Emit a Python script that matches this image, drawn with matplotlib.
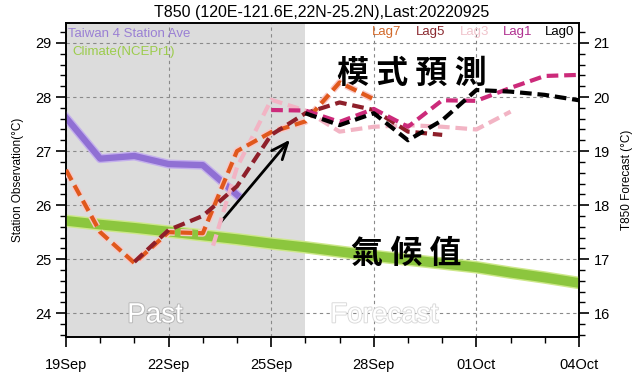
import matplotlib
matplotlib.use("Agg")
import matplotlib.pyplot as plt
import matplotlib.patheffects as pe

plt.rcParams['font.family'] = ['Liberation Sans', 'DejaVu Sans']

# Day index 0 = 19Sep ... 15 = 04Oct
days = list(range(16))
tick_days = [0, 3, 6, 9, 12, 15]
tick_labels = ["19Sep", "22Sep", "25Sep", "28Sep", "01Oct", "04Oct"]

# Station observation (left axis, °C)
obs_days = [0, 1, 2, 3, 4, 5]
obs_vals = [27.62, 26.86, 26.91, 26.76, 26.74, 26.19]

# Climate (NCEPr1), left axis units
clim_vals = [25.71, 25.64, 25.58, 25.51, 25.44, 25.37, 25.29, 25.22,
             25.14, 25.06, 24.99, 24.92, 24.85, 24.75, 24.66, 24.56]

# T850 forecasts (right axis, °C)
lag7_days = [0, 1, 2, 3, 4, 5, 6, 7, 8, 9]
lag7_vals = [18.65, 17.50, 16.93, 17.50, 17.48, 19.00, 19.35, 19.55, 20.27, 19.96]
lag5_days = [2, 3, 4, 5, 6, 7, 8, 9, 10, 11]
lag5_vals = [16.95, 17.54, 17.80, 18.35, 19.30, 19.70, 19.90, 19.76, 19.36, 19.30]
lag3_days = [4.3, 5, 6, 7, 8, 9, 10, 11, 12, 13]
lag3_vals = [17.25, 18.70, 19.95, 19.75, 19.36, 19.45, 19.48, 19.45, 19.40, 19.73]
lag1_days = [6, 7, 8, 9, 10, 11, 12, 13, 14, 15]
lag1_vals = [19.76, 19.75, 19.54, 19.78, 19.45, 19.94, 19.93, 20.17, 20.39, 20.41]
lag0_days = [7, 8, 9, 10, 11, 12, 13, 14, 15]
lag0_vals = [19.70, 19.48, 19.70, 19.20, 19.57, 20.13, 20.10, 20.04, 19.94]

W, H = 644, 381
fig = plt.figure(figsize=(W / 100, H / 100), dpi=100)
ax = fig.add_axes([66 / W, 1 - 337 / H, (579 - 66) / W, (337 - 23) / H])
ax2 = ax.twinx()

ylo, yhi = 23.56, 29.37
ax.set_xlim(0, 15)
ax.set_ylim(ylo, yhi)
ax2.set_ylim(ylo - 8, yhi - 8)

ax.axvspan(0, 7, color="#dcdcdc", zorder=0, lw=0)

# grid
for d in tick_days:
    ax.axvline(d, color="#8a8a8a", lw=0.8, ls=(0, (3, 3)), zorder=1)
for v in [24, 25, 26, 27, 28, 29]:
    ax.axhline(v, color="#8a8a8a", lw=0.8, ls=(0, (3, 3)), zorder=1)

# Past / Forecast labels
ax.text(2.6, 23.72, "Past", fontsize=20, color="white", ha="center", va="bottom",
        zorder=2, path_effects=[pe.withStroke(linewidth=1.4, foreground="#b8b8b8")])
ax.text(9.3, 23.72, "Forecast", fontsize=20, color="white", ha="center", va="bottom",
        zorder=2, path_effects=[pe.withStroke(linewidth=1.4, foreground="#dadada")])

# climate line
ax.plot(days, clim_vals, color="#8cc63e", lw=7, solid_capstyle="butt", zorder=3,
        path_effects=[pe.Stroke(linewidth=9, foreground="#cde88a"), pe.Normal()])
# observation line
ax.plot(obs_days, obs_vals, color="#9070d4", lw=4.5, zorder=4,
        path_effects=[pe.Stroke(linewidth=6.5, foreground="#c4b0ec"), pe.Normal()])

dash = (0, (2.8, 1.4))
ax2.plot(lag3_days, lag3_vals, color="#f2b4c4", lw=3, ls=dash, zorder=5)
ax2.plot(lag7_days, lag7_vals, color="#e0581c", lw=3, ls=dash, zorder=6,
         path_effects=[pe.Stroke(linewidth=5, foreground="#f8c8c8"), pe.Normal()])
ax2.plot(lag5_days, lag5_vals, color="#8e1f2a", lw=3, ls=dash, zorder=7)
ax2.plot(lag1_days, lag1_vals, color="#cc2a7a", lw=3, ls=dash, zorder=8)
ax2.plot(lag0_days, lag0_vals, color="black", lw=3, ls=dash, zorder=9)

# arrow
ax.annotate("", xy=(6.6, 27.25), xytext=(4.45, 25.63),
            arrowprops=dict(arrowstyle="->,head_length=1.2,head_width=0.5", lw=2, color="black"),
            zorder=10)

cjk = ['Noto Sans CJK TC', 'DejaVu Sans']
ax.text(10.1, 28.43, "模 式 預 測", fontsize=23, fontweight="bold", family=cjk,
        ha="center", va="center", zorder=11)
ax.text(9.96, 25.1, "氣 候 值", fontsize=23, fontweight="bold", family=cjk,
        ha="center", va="center", zorder=11)

# legend texts
ax.text(0.05, 29.16, "Taiwan 4 Station Ave", color="#9a80d4", fontsize=9.5, va="center")
ax.text(0.2, 28.83, "Climate(NCEPr1)", color="#9ccc4c", fontsize=9.5, va="center")
lag_names = ["Lag7", "Lag5", "Lag3", "Lag1", "Lag0"]
lag_colors = ["#d2692a", "#8b2a30", "#f0c4cc", "#b03090", "black"]
lag_x = [372, 416, 460, 503, 545]
for nm, c, xp in zip(lag_names, lag_colors, lag_x):
    fig.text(xp / W, 1 - 32 / H, nm, color=c, fontsize=9.5, ha="left", va="center")

ax.set_xticks(tick_days)
ax.set_xticklabels(tick_labels, fontsize=10.5)
ax.set_xticks(days, minor=True)
ax.set_yticks([24, 25, 26, 27, 28, 29])
ax.set_yticks([23.6 + 0.2 * i for i in range(29)], minor=True)
ax2.set_yticks([16, 17, 18, 19, 20, 21])
ax2.set_yticks([15.6 + 0.2 * i for i in range(29)], minor=True)
ax.tick_params(axis="both", which="major", length=7, width=1.2, labelsize=10.5, direction="out")
ax.tick_params(axis="both", which="minor", length=4, width=1, direction="out")
ax2.tick_params(axis="y", which="major", length=7, width=1.2, labelsize=10.5, direction="out")
ax2.tick_params(axis="y", which="minor", length=4, width=1, direction="out")
ax.tick_params(axis="x", pad=8)
for a in (ax, ax2):
    for s in a.spines.values():
        s.set_linewidth(1.2)

ax.set_ylabel("Station Observation(°C)", fontsize=8.5, labelpad=8)
ax2.set_ylabel("T850 Forecast (°C)", fontsize=8.5, labelpad=8)

fig.text(322 / W, 1 - 12 / H, "T850 (120E-121.6E,22N-25.2N),Last:20220925",
         fontsize=11.5, ha="center", va="center")

fig.savefig("out.png", dpi=100)
